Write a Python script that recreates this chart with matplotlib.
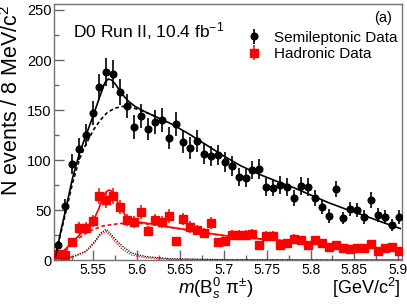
import numpy as np
import matplotlib
matplotlib.use("Agg")
import matplotlib.pyplot as plt
from matplotlib.ticker import MultipleLocator

plt.rcParams['font.family'] = ['Liberation Sans', 'DejaVu Sans']
plt.rcParams['mathtext.fontset'] = 'custom'
plt.rcParams['mathtext.rm'] = 'Liberation Sans'
plt.rcParams['mathtext.it'] = 'Liberation Sans:italic'

# histogram binning, 8 MeV bins
mass_lo, mass_hi, n_bins = 5.505, 5.905, 50

semilep_counts = [15, 54, 96, 111, 125, 147, 173, 188, 186, 168,
                  154, 133, 144, 131, 138, 140, 122, 136, 118, 112,
                  119, 106, 104, 105, 98, 94, 83, 82, 90, 91,
                  73, 72, 75, 73, 62, 74, 73, 62, 53, 44,
                  71, 42, 51, 50, 43, 60, 45, 43, 35, 43]
hadronic_counts = [6, 5, 18, 32, 32, 39, 64, 60, 64, 53,
                   40, 38, 48, 29, 40, 38, 44, 19, 41, 33,
                   30, 27, 37, 18, 19, 25, 25, 25, 26, 15,
                   24, 24, 15, 17, 21, 20, 15, 20, 17, 13,
                   15, 12, 11, 12, 12, 16, 9, 12, 13, 9]

# fit curves
sl_fit_x = [5.5065, 5.512, 5.518, 5.526, 5.534, 5.542, 5.550, 5.558, 5.563, 5.567,
            5.571, 5.576, 5.582, 5.590, 5.598, 5.610, 5.620, 5.640, 5.660, 5.680,
            5.700, 5.720, 5.740, 5.760, 5.780, 5.800, 5.820, 5.840, 5.860, 5.880, 5.903]
sl_fit_y = [3, 27, 50, 82, 107, 126, 145, 165, 177, 181,
            180, 175, 167, 159, 153.5, 148, 144, 136, 126, 115,
            104, 94, 86, 79, 72.5, 65, 57.5, 51, 45, 38.5, 31.5]
sl_bkg_x = [5.5065, 5.512, 5.518, 5.526, 5.534, 5.542, 5.550, 5.558, 5.566, 5.574,
            5.582, 5.590, 5.598, 5.606, 5.615, 5.625]
sl_bkg_y = [3, 25, 47, 77, 101, 117, 130, 140, 147.5, 151.5,
            153.5, 153.5, 151.5, 149, 146, 142]

had_fit_x = [5.5065, 5.511, 5.5262, 5.5415, 5.5512, 5.556, 5.5607, 5.564, 5.5676, 5.571,
             5.5742, 5.5799, 5.5875, 5.599, 5.618, 5.637, 5.656, 5.676, 5.700, 5.720,
             5.740, 5.760, 5.780, 5.800, 5.820, 5.840, 5.860, 5.880, 5.903]
had_fit_y = [2, 5, 18.3, 31.7, 41.7, 51, 62, 67.5, 70, 69,
             65, 54, 43.5, 38.3, 36, 33, 30.5, 27.5, 24.5, 22.8,
             21.3, 20, 18.7, 17.3, 16, 14.7, 13.3, 12, 10.5]
had_bkg_x = [5.5065, 5.511, 5.5225, 5.534, 5.5454, 5.5607, 5.580, 5.600, 5.618, 5.637,
             5.656, 5.676, 5.700, 5.740, 5.800, 5.860, 5.903]
had_bkg_y = [1, 3, 13, 22.5, 29, 34, 36.5, 37, 35.5, 32.8,
             30.3, 27.4, 24.4, 21.2, 17.2, 13.2, 10.4]

sig_x = [5.5065, 5.515, 5.526, 5.5415, 5.551, 5.558, 5.5645, 5.569, 5.575, 5.583,
         5.594, 5.610, 5.637, 5.700, 5.800, 5.905]
sl_sig_y = [0.5, 1.5, 3.3, 9, 18, 26.5, 30.7, 27, 21, 14,
            7, 3.5, 1.3, 0.4, 0.15, 0.1]
had_sig_y = [0.4, 1, 2.7, 8.3, 16.7, 25, 28.5, 25, 18.3, 11,
             5, 2.3, 0.7, 0.2, 0.1, 0.05]

edges = np.linspace(mass_lo, mass_hi, n_bins + 1)
centers = 0.5 * (edges[:-1] + edges[1:])
sl = np.array(semilep_counts)
had = np.array(hadronic_counts)

fig = plt.figure(figsize=(4.07, 3.06), dpi=100)
ax = fig.add_axes([0.1334, 0.1503, 0.8543, 0.835])

red = '#ff0000'
h_sl = ax.errorbar(centers, sl, yerr=np.sqrt(sl), fmt='o', color='black', ms=4.8,
                   elinewidth=1.2, capsize=0, zorder=4)
h_had = ax.errorbar(centers, had, yerr=np.sqrt(had), fmt='s', color=red, ms=5.2,
                    elinewidth=1.1, capsize=0, zorder=4)

ax.plot(sl_fit_x, sl_fit_y, color='black', lw=1.2, zorder=5)
ax.plot(sl_bkg_x, sl_bkg_y, color='black', lw=1.2, dashes=(2.2, 1.6), zorder=5)
ax.plot(had_fit_x, had_fit_y, color=red, lw=1.2, zorder=5)
ax.plot(had_bkg_x, had_bkg_y, color=red, lw=1.2, dashes=(2.2, 1.6), zorder=5)
ax.plot(sig_x, sl_sig_y, color='black', lw=0.9, dashes=(1, 1), zorder=5)
ax.plot(sig_x, had_sig_y, color=red, lw=0.9, dashes=(1, 1), zorder=5)

ax.set_xlim(mass_lo, mass_hi)
ax.set_ylim(0, 255.5)
ax.xaxis.set_minor_locator(MultipleLocator(0.025))
ax.yaxis.set_major_locator(MultipleLocator(50))
ax.yaxis.set_minor_locator(MultipleLocator(25))
ax.set_xticks([5.55, 5.6, 5.65, 5.7, 5.75, 5.8, 5.85, 5.9])
ax.set_xticklabels(['5.55', '5.6', '5.65', '5.7', '5.75', '5.8', '5.85', '5.9'])
ax.tick_params(which='both', direction='in', colors='0.4', labelcolor='black', width=1.0)
ax.tick_params(which='major', length=7)
ax.tick_params(which='minor', length=3.5)
ax.tick_params(axis='x', pad=2, labelsize=10)
ax.tick_params(axis='y', pad=2, labelsize=10.5)
for s in ax.spines.values():
    s.set_color('0.45')
    s.set_linewidth(1.0)

ax.set_ylabel('N events / 8 MeV/c$^{2}$', fontsize=15.5, loc='top', labelpad=3)
fig.text(216 / 407, 1 - 288 / 306, '$m$(B$^{0}_{s}$ π$^{\\pm}$)', fontsize=13.5,
         ha='center', va='center')
fig.text(400 / 407, 1 - 288 / 306, '[GeV/c$^{2}$]', fontsize=13,
         ha='right', va='center')

ax.text(0.054, 0.895, 'D0 Run II, 10.4 fb$^{-1}$', transform=ax.transAxes,
        fontsize=12.5, ha='left', va='center')
ax.text(0.971, 0.948, '(a)', transform=ax.transAxes, fontsize=10.5,
        ha='right', va='center')

ax.legend([h_sl, h_had], ['Semileptonic Data', 'Hadronic Data'],
          loc='upper left', bbox_to_anchor=(0.552, 0.897), frameon=False,
          fontsize=11, handlelength=1.0, handletextpad=0.8,
          labelspacing=0.15, borderaxespad=0, borderpad=0)

fig.savefig('out.png', dpi=100)
